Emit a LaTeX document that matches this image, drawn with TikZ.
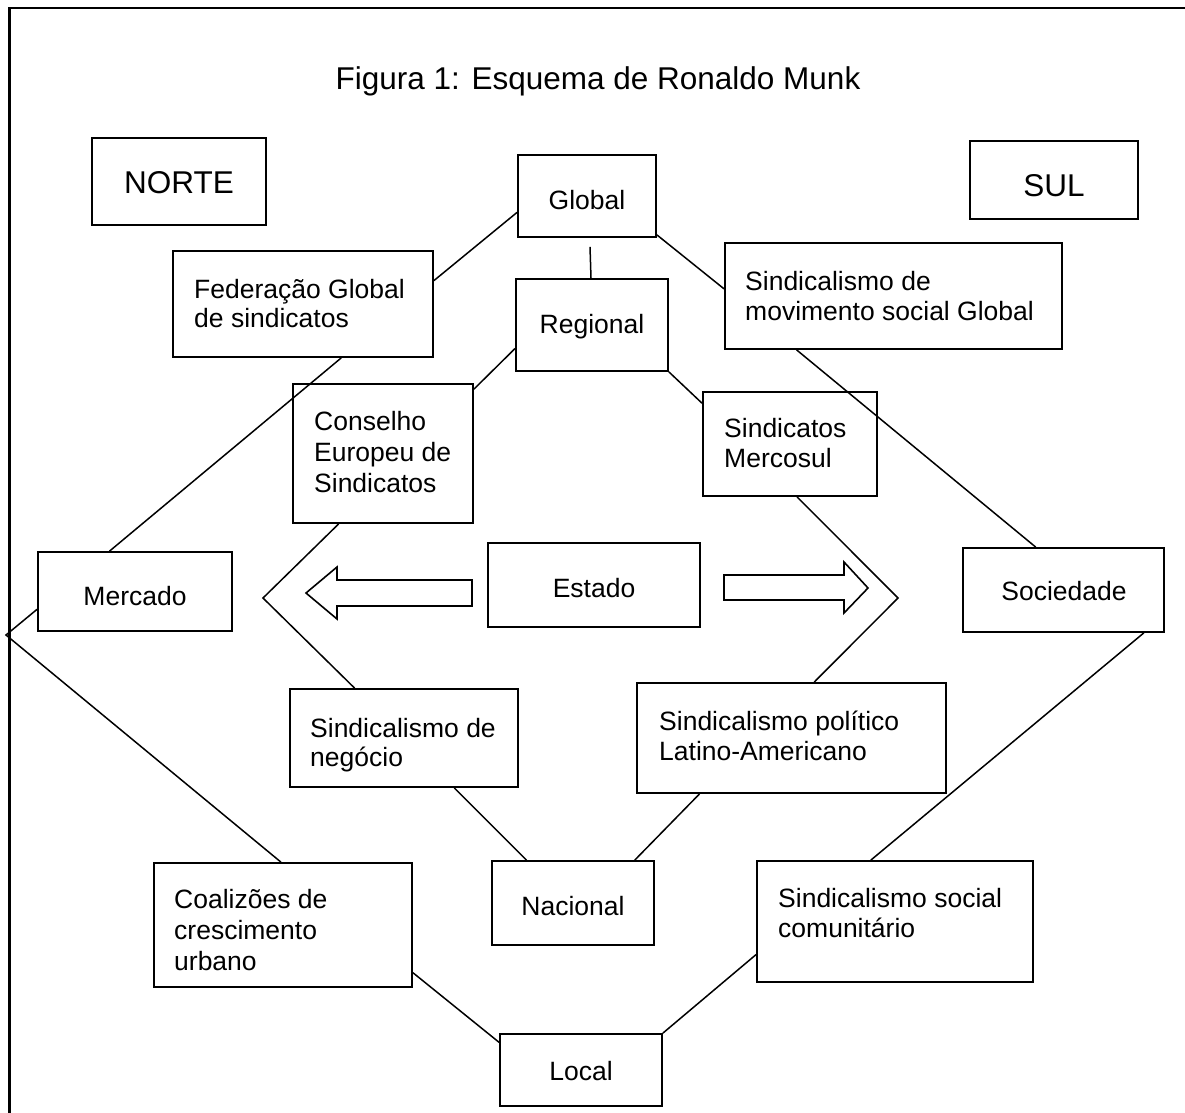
\documentclass[tikz,border=0pt]{standalone}
\usepackage{fontspec}
\setmainfont{Liberation Sans}
\usetikzlibrary{fit,calc}
\tikzset{
  bx/.style={draw, line width=1.8pt, inner sep=0pt},
  ln/.style={line width=1.5pt},
  blk/.style={draw, line width=1.6pt, line join=miter},
  tl/.style={anchor=base west, inner sep=0pt, font=\fontsize{26.5}{30}\selectfont},
  tc/.style={anchor=base, inner sep=0pt, font=\fontsize{26.5}{30}\selectfont},
  big/.style={anchor=base, inner sep=0pt, font=\fontsize{31.5}{36}\selectfont},
}
\begin{document}
\begin{tikzpicture}[x=1pt,y=-1pt]
\useasboundingbox (0,0) rectangle (1185,1112);
\fill[white] (0,0) rectangle (1185,1112);
% outer frame (cropped on right and bottom)
\draw[line width=2.6pt] (9.5,1116) -- (9.5,8) -- (1190,8);

% title
\node[big] (title) at (598,89) {Figura 1: Esquema de Ronaldo Munk};

% boxes
\node[bx, fit={(92,138) (266,225)}] (norte) {};
\node[bx, fit={(970,141) (1138,219)}] (sul) {};
\node[bx, fit={(518,155) (656,237)}] (glob) {};
\node[bx, fit={(173,251) (433,357)}] (fed) {};
\node[bx, fit={(516,279) (668,371)}] (reg) {};
\node[bx, fit={(725,243) (1062,349)}] (smov) {};
\node[bx, fit={(293,384) (473,523)}] (cons) {};
\node[bx, fit={(703,392) (877,496)}] (msul) {};
\node[bx, fit={(38,552) (232,631)}] (mercado) {};
\node[bx, fit={(488,543) (700,627)}] (estado) {};
\node[bx, fit={(963,548) (1164,632)}] (soc) {};
\node[bx, fit={(290,689) (518,787)}] (neg) {};
\node[bx, fit={(637,683) (946,793)}] (lat) {};
\node[bx, fit={(492,861) (654,945)}] (nac) {};
\node[bx, fit={(154,863) (412,987)}] (coal) {};
\node[bx, fit={(757,861) (1033,982)}] (com) {};
\node[bx, fit={(500,1034) (662,1106)}] (local) {};

% texts
\node[big] (tnorte) at (179,193) {NORTE};
\node[big] (tsul) at (1054,196) {SUL};
\node[tc] (tglob) at (587,209) {Global};
\node[tc] (treg) at (592,333) {Regional};
\node[tl] (tfed1) at (194,298) {Federação Global};
\node[tl] (tfed2) at (194,327) {de sindicatos};
\node[tl] (tsmov1) at (745,290) {Sindicalismo de};
\node[tl] (tsmov2) at (745,320) {movimento social Global};
\node[tl] (tcons1) at (314,430) {Conselho};
\node[tl] (tcons2) at (314,461) {Europeu de};
\node[tl] (tcons3) at (314,492) {Sindicatos};
\node[tl] (tmsul1) at (724,437) {Sindicatos};
\node[tl] (tmsul2) at (724,467) {Mercosul};
\node[tc] (tmercado) at (135,605) {Mercado};
\node[tc] (testado) at (594,597) {Estado};
\node[tc] (tsoc) at (1064,600) {Sociedade};
\node[tl] (tneg1) at (310,737) {Sindicalismo de};
\node[tl] (tneg2) at (310,766) {negócio};
\node[tl] (tlat1) at (659,730) {Sindicalismo político};
\node[tl] (tlat2) at (659,760) {Latino-Americano};
\node[tc] (tnac) at (573,915) {Nacional};
\node[tl] (tcoal1) at (174,908) {Coalizões de};
\node[tl] (tcoal2) at (174,939) {crescimento};
\node[tl] (tcoal3) at (174,970) {urbano};
\node[tl] (tcom1) at (778,907) {Sindicalismo social};
\node[tl] (tcom2) at (778,937) {comunitário};
\node[tc] (tlocal) at (581,1080) {Local};

% free vertices
\coordinate (vL) at (6,635);
\coordinate (vLi) at (263,598);
\coordinate (vRi) at (898,598);

% connectors
\draw[ln] ($(glob.north west)!0.695!(glob.south west)$) -- ($(fed.north east)!0.283!(fed.south east)$);
\draw[ln] ($(glob.south east)+(0,-3)$) -- ($(smov.north west)!0.434!(smov.south west)$);
\draw[ln] ($(glob.south)+(3,9)$) -- ($(reg.north)+(-1,0)$);
\draw[ln] ($(reg.north west)!0.75!(reg.south west)$) -- ($(cons.north east)!0.043!(cons.south east)$);
\draw[ln] (reg.south east) -- ($(msul.north west)!0.115!(msul.south west)$);
\draw[ln] ($(fed.south west)!0.646!(fed.south east)$) -- ($(mercado.north west)!0.37!(mercado.north east)$);
\draw[ln] ($(smov.south west)!0.214!(smov.south east)$) -- ($(soc.north west)!0.363!(soc.north east)$);
\draw[ln] ($(mercado.north west)!0.72!(mercado.south west)$) -- (vL) -- ($(coal.north west)!0.492!(coal.north east)$);
\draw[ln] ($(cons.south west)!0.256!(cons.south east)$) -- (vLi) -- ($(neg.north west)!0.285!(neg.north east)$);
\draw[ln] ($(msul.south west)!0.54!(msul.south east)$) -- (vRi) -- ($(lat.north west)!0.573!(lat.north east)$);
\draw[ln] ($(soc.south west)!0.896!(soc.south east)$) -- ($(com.north west)!0.413!(com.north east)$);
\draw[ln] ($(neg.south west)!0.719!(neg.south east)$) -- ($(nac.north west)!0.216!(nac.north east)$);
\draw[ln] ($(lat.south west)!0.204!(lat.south east)$) -- ($(nac.north west)!0.877!(nac.north east)$);
\draw[ln] ($(coal.north east)!0.879!(coal.south east)$) -- ($(local.north west)!0.125!(local.south west)$);
\draw[ln] ($(com.north west)!0.769!(com.south west)$) -- (local.north east);

% hollow block arrows
\draw[blk] (472,580) -- (337,580) -- (337,567) -- (306,593) -- (337,619) -- (337,606) -- (472,606) -- cycle;
\draw[blk] (724,575) -- (844,575) -- (844,562) -- (868,588) -- (844,613) -- (844,600) -- (724,600) -- cycle;
\end{tikzpicture}
\end{document}
